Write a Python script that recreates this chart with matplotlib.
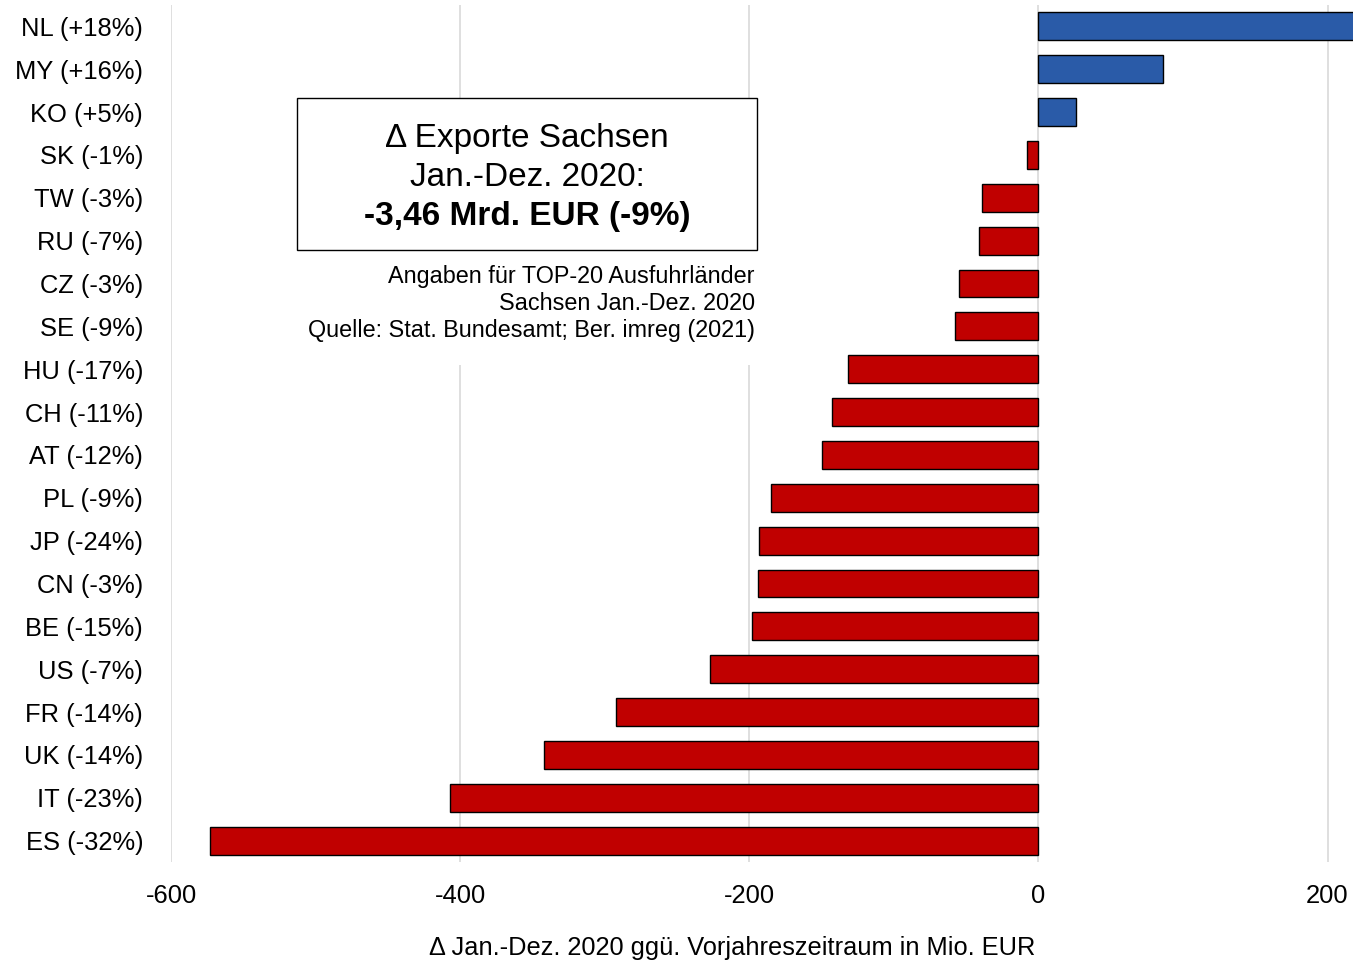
import matplotlib.pyplot as plt
from matplotlib.ticker import MultipleLocator

plt.rcParams['font.family'] = ['Liberation Sans', 'DejaVu Sans']
plt.rcParams['axes.unicode_minus'] = False

# TOP-20 Ausfuhrlaender Sachsen, Delta Jan.-Dez. 2020 in Mio. EUR
countries = ['NL (+18%)', 'MY (+16%)', 'KO (+5%)', 'SK (-1%)', 'TW (-3%)',
             'RU (-7%)', 'CZ (-3%)', 'SE (-9%)', 'HU (-17%)', 'CH (-11%)',
             'AT (-12%)', 'PL (-9%)', 'JP (-24%)', 'CN (-3%)', 'BE (-15%)',
             'US (-7%)', 'FR (-14%)', 'UK (-14%)', 'IT (-23%)', 'ES (-32%)']
delta = [240, 86, 26, -8, -39, -41, -55, -58, -132, -143,
         -150, -185, -193, -194, -198, -227, -292, -342, -407, -573]

blue = '#2A5BA8'
red = '#C00000'
colors = [blue if v > 0 else red for v in delta]

W, H = 1353, 963
fig = plt.figure(figsize=(W / 100, H / 100), dpi=100)
ax = fig.add_axes([171 / W, 101 / H, 1182 / W, 857 / H])

ypos = list(range(len(countries)))[::-1]
ax.barh(ypos, delta, height=0.65, color=colors, edgecolor='black', linewidth=1, zorder=3)

ax.set_xlim(-600, 217.6)
ax.set_ylim(-0.5, len(countries) - 0.5)
ax.xaxis.set_major_locator(MultipleLocator(200))
ax.set_yticks(ypos)
ax.set_yticklabels(countries)
ax.tick_params(axis='y', length=0, pad=20, labelsize=18.4)
ax.tick_params(axis='x', length=0, pad=16, labelsize=18.4)
ax.grid(axis='x', color='#D9D9D9', linewidth=1.2, zorder=0)
for s in ax.spines.values():
    s.set_visible(False)


def fy(py):
    return 1 - py / H


# Quelle, weiss hinterlegt (verdeckt die Gitterlinien)
bg = plt.Rectangle((300 / W, fy(365)), 460 / W, 115 / H, transform=fig.transFigure,
                   facecolor='white', edgecolor='none', zorder=4)
fig.patches.append(bg)
notes = ['Angaben für TOP-20 Ausfuhrländer', 'Sachsen Jan.-Dez. 2020',
         'Quelle: Stat. Bundesamt; Ber. imreg (2021)']
for i, line in enumerate(notes):
    fig.text(755 / W, fy(277 + 27 * i), line, ha='right', va='center', fontsize=16.8, zorder=6)

# Infobox
box = plt.Rectangle((297 / W, fy(250)), 460 / W, 152 / H, transform=fig.transFigure,
                    facecolor='white', edgecolor='black', linewidth=1, zorder=5)
fig.patches.append(box)
fig.text(527 / W, fy(138), 'Δ Exporte Sachsen', ha='center', va='center', fontsize=24, zorder=6)
fig.text(527 / W, fy(178), 'Jan.-Dez. 2020:', ha='center', va='center', fontsize=24, zorder=6)
fig.text(527 / W, fy(216), '-3,46 Mrd. EUR (-9%)', ha='center', va='center', fontsize=24,
         fontweight='bold', zorder=6)

fig.text(732 / W, fy(948), 'Δ Jan.-Dez. 2020 ggü. Vorjahreszeitraum in Mio. EUR',
         ha='center', va='center', fontsize=18.3)

fig.savefig('out.png', dpi=100)
